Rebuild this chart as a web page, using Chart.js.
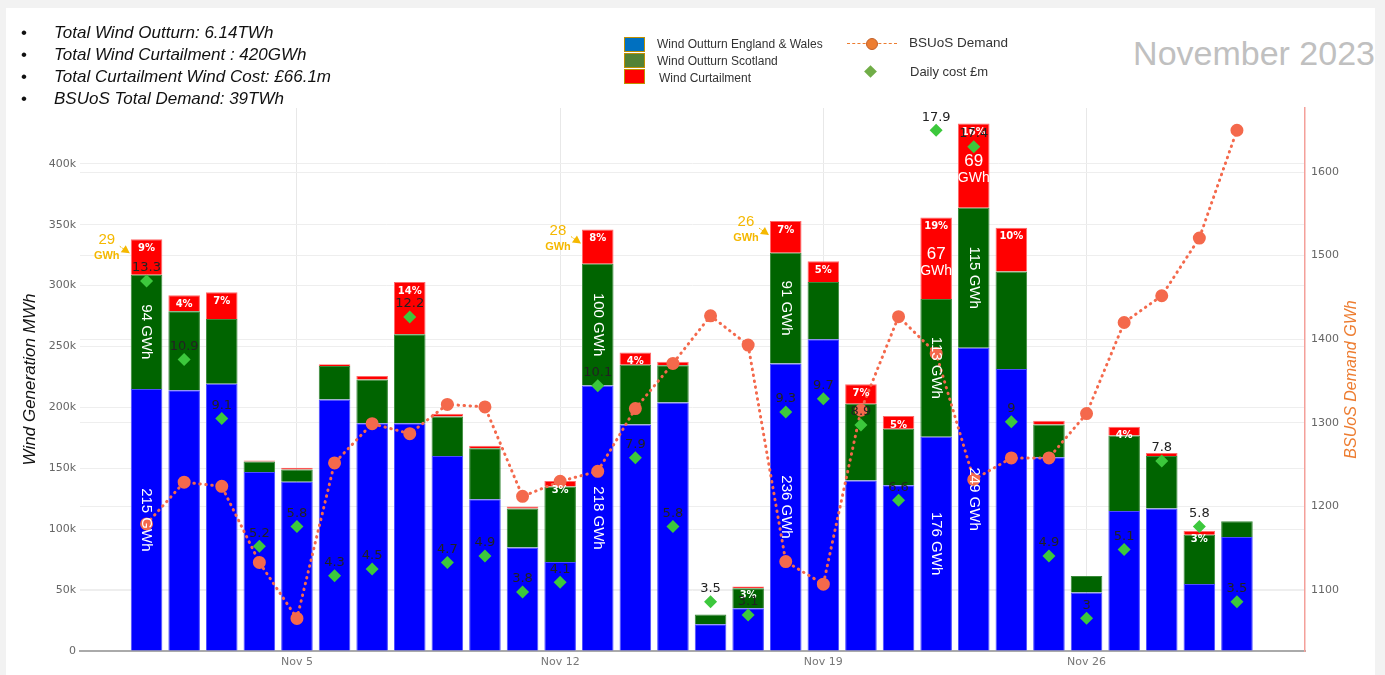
<!DOCTYPE html>
<html>
  <head>
    <title>Wind outturn November 2023</title>
    <script src="https://cdn.jsdelivr.net/npm/chart.js@4.4.0/dist/chart.umd.min.js"></script>
    <style>
    body{
    	margin: 0;
    	background-color: #f2f2f2;
    	font-family: "Liberation Sans", Arial, sans-serif;
    }
    .panel{
    	position: absolute; left: 6px; top: 8px; width: 1369px; height: 667px;
    	background: white; overflow: hidden;
    }
    .chart-box{ position: absolute; left: 0; top: 0; width: 1385px; height: 675px; }
    .notes{ position: absolute; left: 0; top: 0; font-style: italic; font-size: 17px; color: #111; }
    .notes div{ position: absolute; white-space: nowrap; left: 54px; height: 22px; line-height: 22px; }
    .notes span{ position: absolute; left: -33px; font-style: normal; }
    .legend{ position: absolute; left: 0; top: 0; font-size: 12px; color: #333; }
    .legend div{ position: absolute; white-space: nowrap; }
    .sw{ width: 19px; height: 13px; border: 1.5px solid #c09000; }
    .month{ position: absolute; right: 0; top: 26px; font-size: 34px; color: #c0c0c0; white-space: nowrap; }
  	</style>
  </head>
  <body>

    <div class="panel">
      <div class="month">November 2023</div>
    </div>
    <div class="chart-box">
      <canvas id="wind"></canvas>
    </div>
    <div class="notes">
      <div style="top:22px"><span>•</span>Total Wind Outturn: 6.14TWh</div>
      <div style="top:44px"><span>•</span>Total Wind Curtailment : 420GWh</div>
      <div style="top:66px"><span>•</span>Total Curtailment Wind Cost: £66.1m</div>
      <div style="top:88px"><span>•</span>BSUoS Total Demand: 39TWh</div>
    </div>
    <div class="legend">
      <div class="sw" style="left:624px;top:37px;background:#0070c0"></div>
      <div class="sw" style="left:624px;top:53px;background:#548235"></div>
      <div class="sw" style="left:624px;top:69px;background:#ff0000"></div>
      <div style="left:657px;top:37px">Wind Outturn England &amp; Wales</div>
      <div style="left:657px;top:54px">Wind Outturn Scotland</div>
      <div style="left:659px;top:71px">Wind Curtailment</div>
      <div style="left:847px;top:43px;width:50px;border-top:1.5px dashed #ed7d31"></div>
      <div style="left:866px;top:38px;width:10px;height:10px;border-radius:50%;background:#ed7d31;border:1px solid #c0602a"></div>
      <div style="left:909px;top:35px;font-size:13.5px">BSUoS Demand</div>
      <div style="left:866px;top:67px;width:9px;height:9px;background:#70ad47;transform:rotate(45deg)"></div>
      <div style="left:910px;top:64px;font-size:13px">Daily cost £m</div>
    </div>

  <script type="text/javascript">

  // November 2023, values in MWh
  var days = [];
  for (var d = 1; d <= 30; d++) days.push(d);
  var tickDays = [5, 12, 19, 26];
  var generationTicks = [0, 50000, 100000, 150000, 200000, 250000, 300000, 350000, 400000];
  var demandTicks = [1100, 1200, 1300, 1400, 1500, 1600];

  var englandWales = [215000, 214000, 219500, 147000, 139000, 206500, 187000, 187000, 160000, 124500,
                      85000, 73000, 218000, 186000, 204000, 22000, 35000, 236000, 256000, 140000,
                      136000, 176000, 249000, 231500, 159000, 48000, 115000, 117000, 55000, 93500];
  var scotland = [94000, 65000, 53000, 8500, 10000, 27500, 36000, 73000, 32500, 42000,
                  32000, 62000, 100000, 49000, 30500, 8000, 16500, 91000, 47000, 63000,
                  46500, 113000, 115000, 80000, 27000, 13500, 62000, 43000, 40500, 13000];
  var curtailment = [29000, 13000, 22000, 800, 1500, 1500, 2700, 43000, 2200, 2000,
                     1600, 4500, 28000, 10000, 3000, 0, 1500, 26000, 17000, 16000,
                     10500, 67000, 69000, 36000, 3000, 0, 7200, 2500, 3300, 0];
  // GWh
  var demand = [1179, 1229, 1224, 1133, 1066, 1252, 1299, 1287, 1322, 1319,
                1212, 1230, 1242, 1317, 1371, 1428, 1393, 1134, 1107, 1315,
                1427, 1383, 1232, 1258, 1258, 1311, 1420, 1452, 1521, 1650];
  // £m
  var dailyCost = [13.3, 10.9, 9.1, 5.2, 5.8, 4.3, 4.5, 12.2, 4.7, 4.9,
                   3.8, 4.1, 10.1, 7.9, 5.8, 3.5, 3.1, 9.3, 9.7, 8.9,
                   6.6, 17.9, 17.4, 9, 4.9, 3, 5.1, 7.8, 5.8, 3.5];

  var gwhLabelDays = [1, 13, 18, 22, 23];
  var calloutDays = [1, 13, 18];
  var inlineRedDays = [22, 23];

  var gold = '#f5b800';

  function gwh(v){ return Math.round(v / 1000); }
  function fixedTicks(list){
    return function(s){ s.ticks = list.map(function(v){ return { value: v }; }); };
  }

  var barLabels = {
    id: 'barLabels',
    afterDatasetsDraw: function(chart){
      var ctx = chart.ctx;
      var blue = chart.getDatasetMeta(0).data;
      var green = chart.getDatasetMeta(1).data;
      var red = chart.getDatasetMeta(2).data;
      var cost = chart.getDatasetMeta(4).data;
      ctx.save();
      ctx.textAlign = 'center';
      ctx.textBaseline = 'middle';

      // percentage of curtailment at top of each bar
      ctx.font = 'bold 10px "DejaVu Sans"';
      ctx.fillStyle = 'white';
      for (var i = 0; i < days.length; i++){
        var total = englandWales[i] + scotland[i] + curtailment[i];
        var pct = Math.round(curtailment[i] / total * 100);
        if (pct >= 3) ctx.fillText(pct + '%', red[i].x, red[i].y + 9);
      }

      // rotated GWh labels
      ctx.font = '15px "Liberation Sans"';
      gwhLabelDays.forEach(function(day){
        var i = day - 1;
        [[blue[i], englandWales[i]], [green[i], scotland[i]]].forEach(function(p){
          var el = p[0];
          ctx.save();
          ctx.translate(el.x, (el.y + el.base) / 2);
          ctx.rotate(Math.PI / 2);
          ctx.fillText(gwh(p[1]) + ' GWh', 0, 0);
          ctx.restore();
        });
      });

      // curtailment written inside the red part
      inlineRedDays.forEach(function(day){
        var i = day - 1, el = red[i];
        var cy = (el.y + el.base) / 2;
        ctx.font = '17px "Liberation Sans"';
        ctx.fillText(gwh(curtailment[i]), el.x, cy - 4);
        ctx.font = '14px "Liberation Sans"';
        ctx.fillText('GWh', el.x, cy + 13);
      });

      // curtailment callouts with arrows
      calloutDays.forEach(function(day){
        var i = day - 1, el = red[i];
        var left = el.x - el.width / 2;
        var tipX = left - 1, tipY = el.y + 14;
        ctx.fillStyle = gold;
        ctx.strokeStyle = gold;
        ctx.font = '15px "Liberation Sans"';
        ctx.fillText(gwh(curtailment[i]), left - 24, el.y + 1);
        ctx.font = 'bold 11px "Liberation Sans"';
        ctx.fillText('GWh', left - 24, el.y + 17);
        ctx.lineWidth = 1;
        ctx.setLineDash([2, 1]);
        ctx.beginPath();
        ctx.moveTo(tipX - 10, tipY - 7);
        ctx.lineTo(tipX, tipY);
        ctx.stroke();
        ctx.setLineDash([]);
        ctx.beginPath();
        ctx.moveTo(tipX, tipY);
        ctx.lineTo(tipX - 9, tipY - 1);
        ctx.lineTo(tipX - 4, tipY - 8);
        ctx.closePath();
        ctx.fill();
      });

      // daily cost values
      ctx.fillStyle = '#222';
      ctx.font = '13px "DejaVu Sans"';
      cost.forEach(function(pt, i){
        ctx.fillText(String(dailyCost[i]), pt.x, pt.y - 13);
      });

      // right axis title
      var area = chart.chartArea;
      ctx.save();
      ctx.translate(area.right + 47, (area.top + area.bottom) / 2);
      ctx.rotate(-Math.PI / 2);
      ctx.fillStyle = '#ed7d31';
      ctx.font = 'italic 16px "Liberation Sans"';
      ctx.fillText('BSUoS Demand GWh', 0, 0);
      ctx.restore();

      ctx.restore();
    }
  };

  function createChart(){
    var ctx = document.getElementById('wind').getContext('2d');
    Chart.defaults.font.family = '"DejaVu Sans", sans-serif';

    new Chart(ctx, {
      type: 'bar',
      data: {
        labels: days,
        datasets: [
          { label: 'Wind Outturn England & Wales', data: englandWales, backgroundColor: '#0000ff',
            borderColor: '#4d4dff', borderWidth: 1, yAxisID: 'y', order: 10 },
          { label: 'Wind Outturn Scotland', data: scotland, backgroundColor: '#006400',
            borderColor: '#3a8a3a', borderWidth: 1, yAxisID: 'y', order: 10 },
          { label: 'Wind Curtailment', data: curtailment, backgroundColor: '#ff0000',
            borderColor: '#ff6a6a', borderWidth: 1, yAxisID: 'y', order: 10 },
          { type: 'line', label: 'BSUoS Demand', data: demand, yAxisID: 'y2', order: 1,
            borderColor: '#f4694c', borderWidth: 3, borderDash: [0.5, 5.5], borderCapStyle: 'round',
            pointRadius: 5, pointBackgroundColor: '#f4694c', pointBorderColor: '#f4694c',
            tension: 0, fill: false },
          { type: 'line', label: 'Daily cost £m', data: dailyCost, yAxisID: 'yCost', order: 0,
            showLine: false, pointStyle: 'rectRot', pointRadius: 6.5,
            pointBackgroundColor: '#3cc83c', pointBorderColor: '#3cc83c', pointBorderWidth: 0 }
        ]
      },
      options: {
        responsive: true,
        maintainAspectRatio: false,
        animation: false,
        events: [],
        layout: { padding: { top: 108, left: 0, right: 0, bottom: 0 } },
        datasets: { bar: { categoryPercentage: 1, barPercentage: 0.84 } },
        plugins: { legend: { display: false }, tooltip: { enabled: false } },
        scales: {
          x: {
            type: 'linear', stacked: true, min: -0.77, max: 31.81, offset: false,
            afterBuildTicks: fixedTicks(tickDays),
            afterFit: function(s){ s.height = 24; },
            ticks: { callback: function(v){ return 'Nov ' + v; }, color: '#777', font: { size: 11 }, padding: 5 },
            grid: { color: '#e8e8e8', drawTicks: false, offset: false },
            border: { color: '#aaaaaa', width: 2 }
          },
          y: {
            stacked: true, min: 0, max: 445800, position: 'left',
            afterBuildTicks: fixedTicks(generationTicks),
            afterFit: function(s){ s.width = 80; },
            ticks: { color: '#666', font: { size: 11 }, padding: 4,
                     callback: function(v){ return v === 0 ? '0' : (v / 1000) + 'k'; } },
            grid: { color: '#eeeeee', drawTicks: false },
            border: { display: false },
            title: { display: true, text: 'Wind Generation MWh', color: '#111',
                     font: { family: '"Liberation Sans"', size: 17, style: 'italic' }, padding: { top: 20, bottom: 0 } }
          },
          y2: {
            position: 'right', min: 1027, max: 1676.6,
            afterBuildTicks: fixedTicks(demandTicks),
            afterFit: function(s){ s.width = 80; },
            ticks: { color: '#666', font: { size: 11 }, padding: 6,
                     callback: function(v){ return String(v); } },
            grid: { color: '#eeeeee', drawTicks: false },
            border: { color: '#f4a09a', width: 1.5 }
          },
          yCost: {
            display: false, position: 'right', min: 2.0, max: 18.58
          }
        }
      },
      plugins: [barLabels]
    });
  }

  createChart();

  </script>
  </body>
</html>
